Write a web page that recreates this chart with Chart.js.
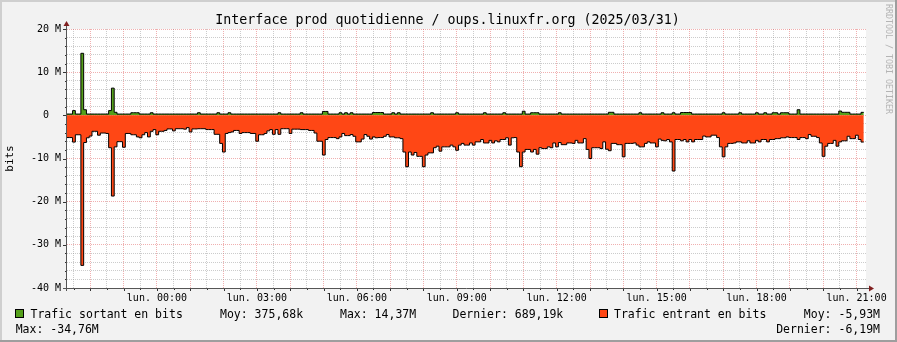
<!DOCTYPE html>
<html>
<head>
<meta charset="utf-8">
<script src="https://cdn.jsdelivr.net/npm/chart.js@4.4.1/dist/chart.umd.min.js"></script>
<style>
  html, body { margin: 0; padding: 0; background: #f2f2f2; }
  canvas { display: block; }
</style>
</head>
<body>
<canvas id="chart-traffic" width="897" height="342"></canvas>
<script>
// time axis in minutes relative to lun. 00:00
const startMinute = -162;
const endMinute = 1277;
const stepMinutes = 5;
const dayPrefix = 'lun. ';

// Mbits/s, one value per 5 minutes
const trafficOut = [
  0.3, 0.3, 1.1, 0.3, 0.3, 14.37, 1.3, 0.3, 0.3, 0.3,
  0.3, 0.3, 0.3, 0.3, 0.3, 1.1, 6.3, 0.7, 0.3, 0.3,
  0.3, 0.3, 0.3, 0.6, 0.6, 0.6, 0.3, 0.3, 0.3, 0.3,
  0.6, 0.3, 0.3, 0.3, 0.3, 0.3, 0.3, 0.3, 0.3, 0.3,
  0.3, 0.3, 0.3, 0.3, 0.3, 0.3, 0.3, 0.6, 0.3, 0.3,
  0.3, 0.3, 0.3, 0.3, 0.6, 0.3, 0.3, 0.3, 0.6, 0.3,
  0.3, 0.3, 0.3, 0.3, 0.3, 0.3, 0.3, 0.3, 0.3, 0.3,
  0.3, 0.3, 0.3, 0.3, 0.3, 0.3, 0.6, 0.3, 0.3, 0.3,
  0.3, 0.3, 0.3, 0.3, 0.6, 0.3, 0.3, 0.3, 0.3, 0.3,
  0.3, 0.3, 0.9, 0.9, 0.3, 0.3, 0.3, 0.3, 0.6, 0.3,
  0.6, 0.3, 0.6, 0.3, 0.3, 0.3, 0.3, 0.3, 0.3, 0.3,
  0.65, 0.65, 0.65, 0.65, 0.3, 0.3, 0.3, 0.6, 0.3, 0.6,
  0.3, 0.3, 0.3, 0.3, 0.3, 0.3, 0.3, 0.3, 0.3, 0.3,
  0.3, 0.6, 0.3, 0.3, 0.3, 0.3, 0.3, 0.3, 0.3, 0.3,
  0.6, 0.3, 0.3, 0.3, 0.3, 0.3, 0.3, 0.3, 0.3, 0.3,
  0.6, 0.3, 0.3, 0.3, 0.3, 0.3, 0.3, 0.6, 0.3, 0.3,
  0.3, 0.3, 0.3, 0.3, 0.95, 0.3, 0.3, 0.6, 0.6, 0.6,
  0.3, 0.3, 0.3, 0.3, 0.3, 0.3, 0.3, 0.6, 0.3, 0.3,
  0.3, 0.3, 0.3, 0.3, 0.3, 0.3, 0.3, 0.3, 0.3, 0.3,
  0.3, 0.3, 0.3, 0.3, 0.3, 0.7, 0.7, 0.3, 0.3, 0.3,
  0.3, 0.3, 0.3, 0.3, 0.3, 0.3, 0.6, 0.3, 0.3, 0.3,
  0.3, 0.3, 0.3, 0.3, 0.6, 0.3, 0.3, 0.3, 0.6, 0.3,
  0.3, 0.65, 0.65, 0.65, 0.65, 0.3, 0.3, 0.3, 0.3, 0.3,
  0.3, 0.3, 0.3, 0.3, 0.3, 0.3, 0.6, 0.3, 0.3, 0.3,
  0.3, 0.3, 0.6, 0.3, 0.3, 0.3, 0.3, 0.3, 0.6, 0.3,
  0.3, 0.6, 0.3, 0.3, 0.6, 0.6, 0.3, 0.6, 0.6, 0.6,
  0.3, 0.3, 0.3, 1.3, 0.3, 0.3, 0.3, 0.3, 0.3, 0.3,
  0.3, 0.3, 0.3, 0.3, 0.3, 0.3, 0.3, 0.3, 1.0, 0.7,
  0.7, 0.7, 0.3, 0.3, 0.3, 0.3, 0.69
];

const trafficIn = [
  -5.15, -5.15, -6.2, -4.5, -4.5, -34.76, -6.3, -5.2, -4.8, -3.7,
  -3.7, -4.6, -4.1, -4.1, -4.2, -7.5, -18.7, -7.3, -6.1, -6.1,
  -7.4, -4.2, -4.2, -4.5, -4.5, -5.0, -5.2, -4.5, -4.0, -5.0,
  -3.7, -3.3, -4.5, -3.7, -3.7, -3.5, -3.15, -3.15, -3.6, -3.1,
  -3.1, -3.1, -3.2, -2.85, -3.85, -3.15, -3.15, -3.1, -3.1, -3.1,
  -3.3, -3.3, -3.3, -4.4, -4.4, -6.5, -8.5, -4.2, -4.0, -3.85,
  -3.5, -3.5, -4.2, -4.0, -4.0, -4.0, -4.2, -4.2, -6.0, -4.5,
  -4.5, -4.2, -3.6, -3.3, -4.4, -3.3, -4.4, -3.1, -3.1, -3.1,
  -4.2, -3.2, -3.2, -3.2, -3.3, -3.3, -3.3, -3.5, -3.5, -4.1,
  -6.0, -6.0, -9.2, -5.6, -5.15, -5.15, -5.15, -5.4, -5.0, -4.2,
  -4.7, -4.7, -4.45, -4.85, -6.15, -6.15, -5.5, -4.45, -4.85, -5.5,
  -5.0, -5.2, -5.15, -5.15, -4.85, -4.45, -5.0, -5.0, -5.2, -5.2,
  -5.4, -8.5, -11.9, -8.5, -9.2, -8.6, -9.5, -9.5, -11.9, -9.2,
  -8.7, -8.7, -7.5, -7.15, -8.3, -7.3, -7.3, -7.3, -6.9, -7.3,
  -8.1, -6.9, -6.5, -6.9, -6.9, -6.4, -6.9, -6.15, -6.15, -5.6,
  -6.4, -6.4, -5.8, -6.4, -5.9, -6.15, -5.6, -5.6, -5.2, -6.9,
  -5.2, -5.15, -8.5, -11.9, -8.5, -7.9, -7.9, -8.5, -7.9, -9.0,
  -7.5, -7.7, -7.7, -7.3, -7.5, -6.4, -7.3, -6.3, -6.8, -6.8,
  -6.4, -6.4, -6.5, -5.8, -6.4, -6.4, -5.4, -7.9, -10.0, -7.5,
  -7.5, -7.5, -7.7, -6.15, -7.85, -8.2, -6.5, -6.5, -6.8, -6.8,
  -9.6, -6.5, -6.5, -6.5, -6.4, -6.9, -7.3, -7.3, -6.5, -6.15,
  -6.4, -6.4, -7.3, -5.5, -5.8, -5.9, -5.6, -6.15, -12.9, -5.6,
  -5.6, -5.9, -5.6, -6.15, -5.6, -6.15, -5.6, -5.6, -5.6, -4.8,
  -5.0, -5.0, -4.6, -4.6, -5.15, -7.3, -9.6, -7.3, -6.5, -6.5,
  -6.4, -6.15, -6.15, -6.4, -6.4, -5.9, -6.4, -6.4, -5.8, -6.15,
  -5.6, -5.6, -6.15, -5.6, -5.6, -5.4, -5.4, -5.2, -5.2, -5.0,
  -5.15, -5.15, -5.15, -5.6, -5.15, -5.15, -5.4, -4.45, -4.85, -4.85,
  -5.15, -6.4, -9.5, -7.15, -6.5, -6.5, -5.8, -7.15, -6.15, -5.9,
  -5.9, -4.85, -5.4, -5.4, -4.6, -5.6, -6.19
];

// grid ticks every half hour, labels every 3 hours
const xTickValues = [];
for (let m = -150; m <= 1260; m += 30) xTickValues.push(m);

const titleText = 'Interface prod quotidienne / oups.linuxfr.org (2025/03/31)';
const seriesNames = ['Trafic sortant en bits', 'Trafic entrant en bits'];
const statsOut = ['Moy: 375,68k', 'Max: 14,37M', 'Dernier: 689,19k'];
const statsIn = ['Moy: -5,93M', 'Max: -34,76M', 'Dernier: -6,19M'];

const colorOut = '#55a01b';
const colorIn = '#ff4715';
const monoFont = '"DejaVu Sans Mono", monospace';

function toSteps(values) {
  const pts = values.map((v, i) => ({ x: startMinute + i * stepMinutes, y: v * 1e6 }));
  pts.push({ x: startMinute + values.length * stepMinutes, y: values[values.length - 1] * 1e6 });
  return pts;
}

const rrdLook = {
  id: 'rrdLook',
  beforeDraw(chart) {
    const { ctx, chartArea: a, width, height } = chart;
    ctx.save();
    ctx.fillStyle = '#f2f2f2';
    ctx.fillRect(0, 0, width, height);
    ctx.fillStyle = '#cfcfcf';
    ctx.fillRect(0, 0, width, 2);
    ctx.fillRect(0, 0, 2, height);
    ctx.fillStyle = '#9e9e9e';
    ctx.fillRect(0, height - 2, width, 2);
    ctx.fillRect(width - 2, 0, 2, height);
    ctx.fillStyle = '#ffffff';
    ctx.fillRect(a.left, a.top, a.right - a.left, a.bottom - a.top);
    ctx.restore();
  },
  afterDraw(chart) {
    const { ctx, chartArea: a } = chart;
    const xs = chart.scales.x, ys = chart.scales.y;
    ctx.save();

    // tick marks
    ctx.strokeStyle = '#333';
    ctx.lineWidth = 1;
    ctx.beginPath();
    ys.ticks.forEach(t => {
      const y = Math.round(ys.getPixelForValue(t.value)) + 0.5;
      const len = t.value % 10e6 === 0 ? 4 : 2;
      ctx.moveTo(a.left - len, y);
      ctx.lineTo(a.left, y);
    });
    xs.ticks.forEach(t => {
      const x = Math.round(xs.getPixelForValue(t.value)) + 0.5;
      const len = t.value % 60 === 0 ? 3 : 2;
      ctx.moveTo(x, a.bottom);
      ctx.lineTo(x, a.bottom + len);
    });
    ctx.stroke();

    // axes
    ctx.strokeStyle = '#555';
    ctx.beginPath();
    ctx.moveTo(a.left - 0.5, a.bottom + 3);
    ctx.lineTo(a.left - 0.5, a.top - 4);
    ctx.moveTo(a.left - 4, a.bottom + 0.5);
    ctx.lineTo(a.right + 4, a.bottom + 0.5);
    ctx.stroke();

    // arrows
    ctx.fillStyle = '#801f1f';
    ctx.beginPath();
    ctx.moveTo(a.left - 0.5, a.top - 8);
    ctx.lineTo(a.left - 3.5, a.top - 3);
    ctx.lineTo(a.left + 2.5, a.top - 3);
    ctx.closePath();
    ctx.fill();
    ctx.beginPath();
    ctx.moveTo(a.right + 8, a.bottom + 0.5);
    ctx.lineTo(a.right + 3, a.bottom - 2.5);
    ctx.lineTo(a.right + 3, a.bottom + 3.5);
    ctx.closePath();
    ctx.fill();

    // title
    ctx.fillStyle = '#000';
    ctx.font = '13.3px ' + monoFont;
    ctx.textAlign = 'center';
    ctx.textBaseline = 'alphabetic';
    ctx.fillText(titleText, 447.5, 24);

    // legend
    ctx.font = '11.5px ' + monoFont;
    ctx.textAlign = 'left';
    const boxes = [[15, colorOut], [599, colorIn]];
    boxes.forEach(([bx, col]) => {
      ctx.fillStyle = col;
      ctx.fillRect(bx, 309, 9, 9);
      ctx.strokeStyle = '#000';
      ctx.strokeRect(bx + 0.5, 309.5, 8, 8);
    });
    ctx.fillStyle = '#000';
    ctx.fillText(seriesNames[0], 30.5, 318);
    ctx.fillText(statsOut[0], 220, 318);
    ctx.fillText(statsOut[1], 340, 318);
    ctx.fillText(statsOut[2], 452.5, 318);
    ctx.fillText(seriesNames[1], 614, 318);
    ctx.fillText(statsIn[1], 15.7, 332.5);
    ctx.textAlign = 'right';
    ctx.fillText(statsIn[0], 880, 318);
    ctx.fillText(statsIn[2], 880, 332.5);

    // watermark
    ctx.translate(888.5, 4);
    ctx.rotate(Math.PI / 2);
    ctx.fillStyle = '#b4b4b4';
    ctx.font = '8.3px ' + monoFont;
    ctx.textAlign = 'left';
    ctx.textBaseline = 'middle';
    ctx.fillText('RRDTOOL / TOBI OETIKER', 0, 0);
    ctx.restore();
  }
};

const chartTraffic = document.getElementById('chart-traffic');

new Chart(chartTraffic, {
  type: 'line',
  data: {
    datasets: [{
      label: seriesNames[1],
      data: toSteps(trafficIn),
      stepped: true,
      fill: 'origin',
      backgroundColor: colorIn,
      borderColor: '#000',
      borderWidth: 1,
      pointRadius: 0,
    }, {
      label: seriesNames[0],
      data: toSteps(trafficOut),
      stepped: true,
      fill: 'origin',
      backgroundColor: colorOut,
      borderColor: '#000',
      borderWidth: 1,
      pointRadius: 0,
    }]
  },
  options: {
    responsive: false,
    animation: false,
    events: [],
    devicePixelRatio: 1,
    layout: {
      padding: { top: 29, right: 31, bottom: 0, left: 0 },
    },
    plugins: {
      legend: { display: false },
      tooltip: { enabled: false },
    },
    scales: {
      x: {
        type: 'linear',
        min: startMinute,
        max: endMinute,
        afterBuildTicks(scale) {
          scale.ticks = xTickValues.map(v => ({ value: v }));
        },
        afterFit(scale) { scale.height = 54; },
        border: { display: false, dash: [1, 1] },
        grid: {
          drawTicks: false,
          color(ctx) {
            return ctx.tick.value % 60 === 0 ? 'rgba(222, 80, 80, 0.45)' : 'rgba(143, 143, 143, 0.45)';
          },
        },
        ticks: {
          autoSkip: false,
          maxRotation: 0,
          padding: 4,
          color: '#000',
          font: { family: monoFont, size: 10 },
          callback(value) {
            if (value % 180 !== 0) return '';
            const h = String(value / 60).padStart(2, '0');
            return dayPrefix + h + ':00';
          },
        },
      },
      y: {
        min: -40e6,
        max: 20e6,
        afterFit(scale) { scale.width = 67; },
        border: { display: false, dash: [1, 1] },
        grid: {
          drawTicks: false,
          color(ctx) {
            return ctx.tick.value % 10e6 === 0 ? 'rgba(222, 80, 80, 0.45)' : 'rgba(143, 143, 143, 0.45)';
          },
        },
        title: {
          display: true,
          text: 'bits',
          color: '#000',
          font: { family: monoFont, size: 11 },
          padding: { top: 4, bottom: 0 },
        },
        ticks: {
          stepSize: 2e6,
          autoSkip: false,
          padding: 6,
          color: '#000',
          font: { family: monoFont, size: 10 },
          callback(value) {
            if (value === 0) return '0  ';
            if (value % 10e6 !== 0) return '';
            return (value / 1e6) + ' M';
          },
        },
      },
    },
  },
  plugins: [rrdLook],
});
</script>
</body>
</html>
